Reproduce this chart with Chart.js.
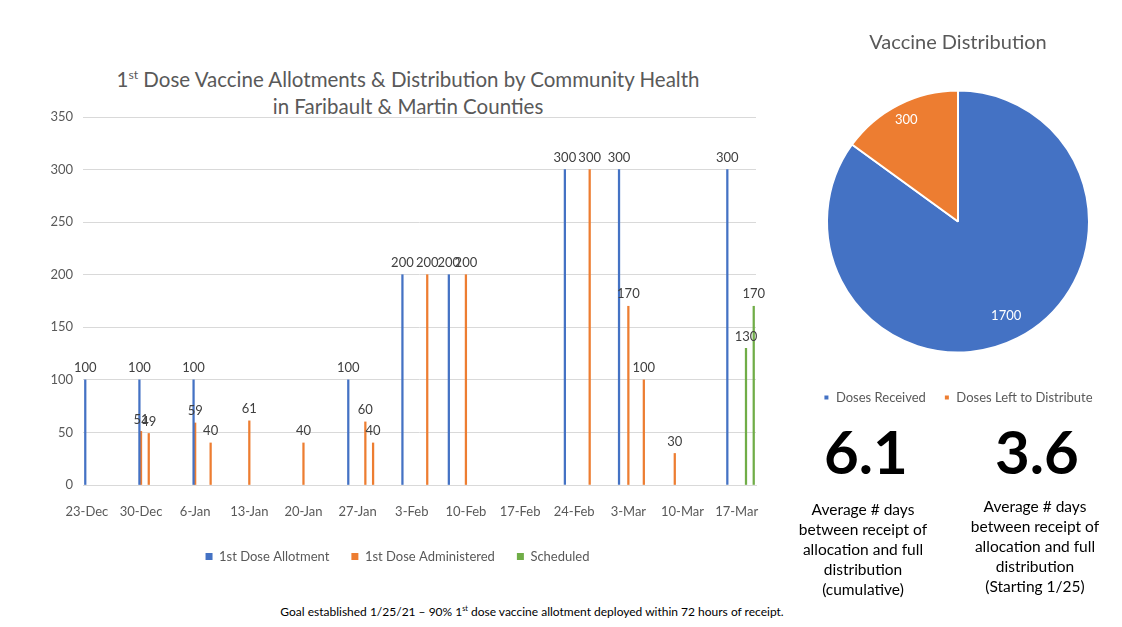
<!DOCTYPE html>
<html>
<head>
<meta charset="utf-8">
<script src="https://cdn.jsdelivr.net/npm/chart.js@4.4.1/dist/chart.umd.min.js"></script>
<style>
  body { margin: 0; background: #fff; font-family: Lato, "Liberation Sans", sans-serif; }
  #page { position: relative; width: 1122px; height: 627px; overflow: hidden; }
  #barTitle { position: absolute; left: 0; top: 66px; width: 816px; text-align: center;
    font-size: 20.5px; line-height: 27px; color: #595959; }
  sup { font-size: 0.6em; vertical-align: super; line-height: 0; }
  #barWrap { position: absolute; left: 0; top: 0; width: 795px; height: 573px; }
  #pieWrap { position: absolute; left: 795px; top: 0; width: 330px; height: 414px; }
  .big { position: absolute; top: 421px; width: 160px; text-align: center; font-weight: bold;
    font-size: 60px; line-height: 60px; color: #000; }
  .note { position: absolute; width: 170px; text-align: center; font-size: 15.5px; line-height: 20px; color: #000; }
  #foot { position: absolute; left: 232px; width: 600px; top: 603px; text-align: center;
    font-size: 12px; line-height: 18px; color: #000; }
</style>
</head>
<body>
<div id="page">
  <div id="barTitle">1<sup>st</sup> Dose Vaccine Allotments &amp; Distribution by Community Health<br>in Faribault &amp; Martin Counties</div>
  <div id="barWrap"><canvas id="bar"></canvas></div>
  <div id="pieWrap"><canvas id="pie"></canvas></div>
  <div class="big" style="left:786px">6.1</div>
  <div class="big" style="left:957px">3.6</div>
  <div class="note" style="left:778px; top:499px">Average # days<br>between receipt of<br>allocation and full<br>distribution<br>(cumulative)</div>
  <div class="note" style="left:950px; top:496px">Average # days<br>between receipt of<br>allocation and full<br>distribution<br>(Starting 1/25)</div>
  <div id="foot">Goal established 1/25/21 – 90% 1<sup>st</sup> dose vaccine allotment deployed within 72 hours of receipt.</div>
</div>
<script>
const weekLabels = ['23-Dec', '30-Dec', '6-Jan', '13-Jan', '20-Jan', '27-Jan', '3-Feb',
  '10-Feb', '17-Feb', '24-Feb', '3-Mar', '10-Mar', '17-Mar']

const allotDates = ['23-Dec', '30-Dec', '6-Jan', '26-Jan', '2-Feb', '8-Feb', '23-Feb', '2-Mar', '16-Mar']
const allotValues = [100, 100, 100, 100, 200, 200, 300, 300, 300]

const adminDates = ['30-Dec', '31-Dec', '6-Jan', '8-Jan', '13-Jan', '20-Jan', '28-Jan', '29-Jan',
  '5-Feb', '10-Feb', '26-Feb', '3-Mar', '5-Mar', '9-Mar']
const adminValues = [51, 49, 59, 40, 61, 40, 60, 40, 200, 200, 300, 170, 100, 30]

const schedDates = ['18-Mar', '19-Mar']
const schedValues = [130, 170]

const pieLabels = ['Doses Received', 'Doses Left to Distribute']
const pieValues = [1700, 300]

const BLUE = '#4472C4'
const ORANGE = '#ED7D31'
const GREEN = '#70AD47'
const GREY = '#595959'

// one category per day, 23-Dec-2020 .. 19-Mar-2021
const months = ['Jan', 'Feb', 'Mar', 'Apr', 'May', 'Jun', 'Jul', 'Aug', 'Sep', 'Oct', 'Nov', 'Dec']
const days = []
for (let d = new Date(2020, 11, 23); d <= new Date(2021, 2, 19); d.setDate(d.getDate() + 1)) {
  days.push(d.getDate() + '-' + months[d.getMonth()])
}

const points = (dates, values) => dates.map((x, i) => ({ x: x, y: values[i] }))

Chart.defaults.font.family = 'Lato, "Liberation Sans", sans-serif'

const barLabels = {
  id: 'barLabels',
  afterDatasetsDraw (chart) {
    const ctx = chart.ctx
    ctx.save()
    ctx.font = '13px Lato, "Liberation Sans", sans-serif'
    ctx.fillStyle = '#404040'
    ctx.textAlign = 'center'
    ctx.textBaseline = 'middle'
    chart.data.datasets.forEach((ds, i) => {
      chart.getDatasetMeta(i).data.forEach((bar, j) => {
        ctx.fillText(ds.data[j].y, bar.x, bar.y - 12)
      })
    })
    ctx.restore()
  }
}

new Chart(document.getElementById('bar'), {
  type: 'bar',
  data: {
    labels: days,
    datasets: [
      { label: '1st Dose Allotment', data: points(allotDates, allotValues), backgroundColor: BLUE },
      { label: '1st Dose Administered', data: points(adminDates, adminValues), backgroundColor: ORANGE },
      { label: 'Scheduled', data: points(schedDates, schedValues), backgroundColor: GREEN }
    ]
  },
  options: {
    responsive: true,
    maintainAspectRatio: false,
    animation: false,
    barThickness: 1.6,
    layout: { padding: { top: 117, right: 39, left: 39, bottom: 0 } },
    plugins: {
      tooltip: { enabled: false },
      legend: {
        position: 'bottom',
        labels: { boxWidth: 7, boxHeight: 7, padding: 22, color: GREY, font: { size: 13 } }
      }
    },
    scales: {
      x: {
        grid: { display: false },
        border: { display: true, color: '#d9d9d9' },
        ticks: {
          autoSkip: false,
          maxRotation: 0,
          padding: 11,
          color: GREY,
          font: { size: 13 },
          callback (value) {
            const lbl = this.getLabelForValue(value)
            return weekLabels.includes(lbl) ? lbl : null
          }
        },
        afterFit (scale) { scale.height = 43 }
      },
      y: {
        min: 0,
        max: 350,
        grid: { color: '#d9d9d9', drawTicks: false },
        border: { display: false },
        ticks: { stepSize: 50, padding: 10, color: GREY, font: { size: 13 } },
        afterFit (scale) { scale.width = 44 }
      }
    }
  },
  plugins: [barLabels]
})

const pieText = {
  id: 'pieText',
  afterDatasetsDraw (chart) {
    const ctx = chart.ctx
    ctx.save()
    ctx.font = '13px Lato, "Liberation Sans", sans-serif'
    ctx.fillStyle = '#fff'
    ctx.textAlign = 'center'
    ctx.textBaseline = 'middle'
    const values = chart.data.datasets[0].data
    chart.getDatasetMeta(0).data.forEach((arc, i) => {
      const p = arc.getProps(['x', 'y', 'startAngle', 'endAngle', 'outerRadius'])
      const mid = (p.startAngle + p.endAngle) / 2
      const r = p.outerRadius * (i === 0 ? 0.81 : 0.87)
      ctx.fillText(values[i], p.x + Math.cos(mid) * r, p.y + Math.sin(mid) * r)
    })
    ctx.restore()
  }
}

new Chart(document.getElementById('pie'), {
  type: 'pie',
  data: {
    labels: pieLabels,
    datasets: [{
      data: pieValues,
      backgroundColor: [BLUE, ORANGE],
      borderColor: '#fff',
      borderWidth: 2,
      radius: 131
    }]
  },
  options: {
    responsive: true,
    maintainAspectRatio: false,
    animation: false,
    layout: { padding: { left: 0, right: 4, top: 0, bottom: 0 } },
    plugins: {
      tooltip: { enabled: false },
      title: {
        display: true,
        text: 'Vaccine Distribution',
        color: GREY,
        font: { size: 20, weight: 'normal' },
        padding: { top: 30.5, bottom: 15.5 }
      },
      legend: {
        position: 'bottom',
        labels: { boxWidth: 6, boxHeight: 6, padding: 18, color: GREY, font: { size: 13 } }
      }
    }
  },
  plugins: [pieText]
})
</script>
</body>
</html>
